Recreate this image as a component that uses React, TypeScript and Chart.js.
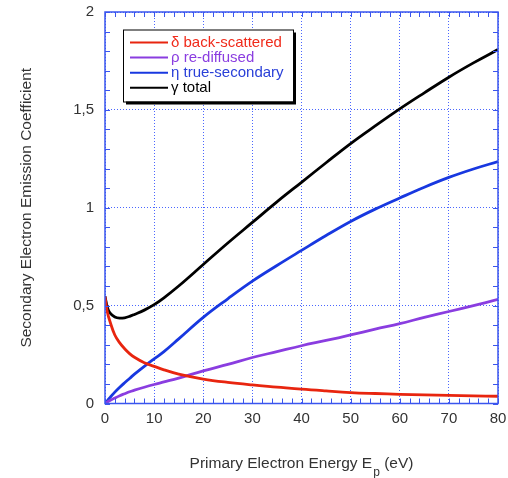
import React, { useEffect, useRef } from "react";
import { Chart, registerables } from "chart.js";

Chart.register(...registerables);

// ---- data ----
const energies = [0, 0.5, 1, 2, 3, 4, 5, 6, 8, 10, 12, 15, 20, 25, 30, 35, 40, 45, 50, 55, 60, 65, 70, 75, 80];
const backScattered = [0.545, 0.465, 0.42, 0.35, 0.31, 0.28, 0.255, 0.236, 0.208, 0.19, 0.172, 0.15, 0.125, 0.108, 0.095, 0.084, 0.073, 0.064, 0.056, 0.051, 0.047, 0.044, 0.041, 0.039, 0.037];
const reDiffused = [0, 0.008, 0.015, 0.028, 0.04, 0.05, 0.06, 0.068, 0.083, 0.097, 0.11, 0.13, 0.167, 0.2, 0.235, 0.265, 0.295, 0.322, 0.35, 0.38, 0.408, 0.44, 0.47, 0.5, 0.532];
const trueSecondary = [0, 0.015, 0.03, 0.058, 0.083, 0.106, 0.128, 0.15, 0.19, 0.228, 0.265, 0.33, 0.44, 0.535, 0.625, 0.705, 0.782, 0.858, 0.93, 0.993, 1.05, 1.105, 1.155, 1.198, 1.236];
const total = [0.548, 0.49, 0.463, 0.442, 0.436, 0.438, 0.445, 0.455, 0.477, 0.505, 0.54, 0.6, 0.71, 0.82, 0.925, 1.03, 1.13, 1.23, 1.328, 1.418, 1.505, 1.587, 1.667, 1.74, 1.808];

const seriesSymbols = ["δ", "ρ", "η", "γ"];
const seriesNames = ["back-scattered", "re-diffused", "true-secondary", "total"];
const seriesValues = [backScattered, reDiffused, trueSecondary, total];
const lineColors = ["#e8250f", "#8a3de0", "#1838e0", "#000000"];
const textColors = ["#f02a1a", "#8a3de0", "#2a40d8", "#000000"];

const xMin = 0;
const xMax = 80;
const xStep = 10;
const xMinorStep = 2;
const yMin = 0;
const yMax = 2;
const yStep = 0.5;
const yMinorStep = 0.1;

const yTitle = "Secondary Electron Emission Coefficient";
const xTitleMain = "Primary Electron Energy E";
const xTitleSub = "p";
const xTitleEnd = " (eV)";

const FONT = "'Liberation Sans', Arial, Helvetica, sans-serif";
const FRAME = "#3a55ee";
const GRID = "#4a66ff";
const TEXT = "#333333";

const decoPlugin = {
  id: "deco",
  afterDraw(chart: any) {
    const { ctx, chartArea } = chart;
    const { left, right, top, bottom } = chartArea;
    const xs = chart.scales.x;
    const ys = chart.scales.y;
    ctx.save();
    // frame
    ctx.strokeStyle = FRAME;
    ctx.lineWidth = 1.5;
    ctx.setLineDash([]);
    ctx.strokeRect(left, top, right - left, bottom - top);
    // minor ticks on all sides
    ctx.lineWidth = 1;
    ctx.beginPath();
    for (let i = 0; i <= Math.round((xMax - xMin) / xMinorStep); i++) {
      const px = Math.round(xs.getPixelForValue(xMin + i * xMinorStep)) + 0.5;
      ctx.moveTo(px, bottom);
      ctx.lineTo(px, bottom - 5);
      ctx.moveTo(px, top);
      ctx.lineTo(px, top + 5);
    }
    for (let i = 0; i <= Math.round((yMax - yMin) / yMinorStep); i++) {
      const py = Math.round(ys.getPixelForValue(yMin + i * yMinorStep)) + 0.5;
      ctx.moveTo(left, py);
      ctx.lineTo(left + 5, py);
      ctx.moveTo(right, py);
      ctx.lineTo(right - 5, py);
    }
    ctx.stroke();

    // y title
    ctx.fillStyle = TEXT;
    ctx.font = `15.5px ${FONT}`;
    ctx.textAlign = "center";
    ctx.textBaseline = "middle";
    ctx.save();
    ctx.translate(27, (top + bottom) / 2);
    ctx.rotate(-Math.PI / 2);
    ctx.fillText(yTitle, 0, 0);
    ctx.restore();

    // x title with subscript
    ctx.textAlign = "left";
    ctx.textBaseline = "alphabetic";
    ctx.font = `15.5px ${FONT}`;
    const w1 = ctx.measureText(xTitleMain).width;
    const w3 = ctx.measureText(xTitleEnd).width;
    ctx.font = `12px ${FONT}`;
    const w2 = ctx.measureText(xTitleSub).width;
    const total_w = w1 + w2 + w3 + 1;
    let tx = (left + right) / 2 - total_w / 2;
    const ty = 468;
    ctx.font = `15.5px ${FONT}`;
    ctx.fillText(xTitleMain, tx, ty);
    tx += w1 + 1;
    ctx.font = `12px ${FONT}`;
    ctx.fillText(xTitleSub, tx, ty + 8);
    tx += w2;
    ctx.font = `15.5px ${FONT}`;
    ctx.fillText(xTitleEnd, tx, ty);

    // legend
    const bx = 123, by = 29.5, bw = 170, bh = 72;
    ctx.fillStyle = "#000";
    ctx.fillRect(bx + 3, by + 3, bw, bh);
    ctx.fillStyle = "#fff";
    ctx.fillRect(bx, by, bw, bh);
    ctx.strokeStyle = "#000";
    ctx.lineWidth = 1;
    ctx.strokeRect(bx + 0.5, by + 0.5, bw, bh);
    ctx.font = `15px ${FONT}`;
    ctx.textBaseline = "middle";
    for (let i = 0; i < seriesNames.length; i++) {
      const ry = 42.5 + i * 15.1;
      ctx.strokeStyle = lineColors[i];
      ctx.lineWidth = 2;
      ctx.beginPath();
      ctx.moveTo(130, ry);
      ctx.lineTo(168, ry);
      ctx.stroke();
      ctx.fillStyle = textColors[i];
      ctx.fillText(`${seriesSymbols[i]} ${seriesNames[i]}`, 171, ry);
    }
    ctx.restore();
  },
};

export default function App() {
  const ref = useRef<HTMLCanvasElement | null>(null);
  useEffect(() => {
    if (!ref.current) return;
    const datasets = seriesValues.map((vals, i) => ({
      label: `${seriesSymbols[i]} ${seriesNames[i]}`,
      data: energies.map((e, j) => ({ x: e, y: vals[j] })),
      borderColor: lineColors[i],
      backgroundColor: lineColors[i],
      borderWidth: 2.8,
      pointRadius: 0,
      fill: false,
      tension: 0.4,
    }));
    const chart = new Chart(ref.current, {
      type: "line",
      data: { datasets },
      options: {
        animation: false,
        responsive: false,
        maintainAspectRatio: false,
        layout: { padding: { top: 12, right: 10, left: 0, bottom: 0 } },
        plugins: { legend: { display: false }, tooltip: { enabled: false } },
        scales: {
          x: {
            type: "linear",
            min: xMin,
            max: xMax,
            afterFit: (s: any) => {
              s.height = 74.5;
              s.paddingLeft = 0;
              s.paddingRight = 0;
              s.paddingTop = 0;
              s.paddingBottom = 0;
            },
            ticks: {
              stepSize: xStep,
              color: TEXT,
              font: { family: FONT, size: 15 },
              padding: 6,
              maxRotation: 0,
            },
            grid: { color: GRID, lineWidth: 1, drawTicks: false },
            border: { display: false, dash: [1, 2] },
          },
          y: {
            type: "linear",
            min: yMin,
            max: yMax,
            afterFit: (s: any) => {
              s.width = 105;
              s.paddingLeft = 0;
              s.paddingRight = 0;
              s.paddingTop = 0;
              s.paddingBottom = 0;
            },
            ticks: {
              stepSize: yStep,
              color: TEXT,
              font: { family: FONT, size: 15 },
              padding: 11,
              callback: (v: any) => String(v).replace(".", ","),
            },
            grid: { color: GRID, lineWidth: 1, drawTicks: false },
            border: { display: false, dash: [1, 2] },
          },
        },
      },
      plugins: [decoPlugin],
    });
    return () => chart.destroy();
  }, []);
  return (
    <div style={{ position: "absolute", left: 0, top: 0, width: 508, height: 478, background: "#fff" }}>
      <canvas ref={ref} width={508} height={478} />
    </div>
  );
}
